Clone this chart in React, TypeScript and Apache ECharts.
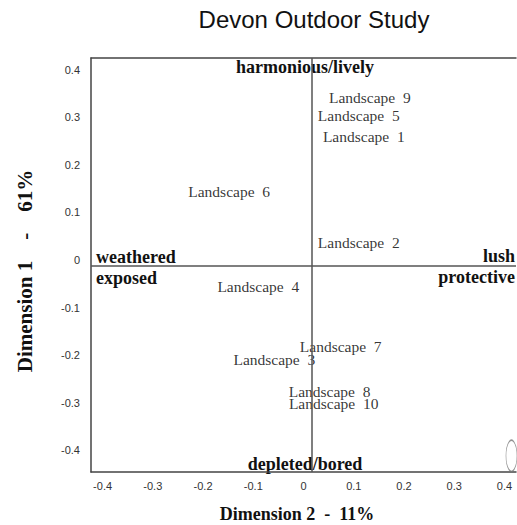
import React, { useEffect, useRef } from "react";
import * as echarts from "echarts";

const landscapeNames = [
  "Landscape  1", "Landscape  2", "Landscape  3", "Landscape  4", "Landscape  5",
  "Landscape  6", "Landscape  7", "Landscape  8", "Landscape  9", "Landscape  10",
];
const dim2Values = [0.104, 0.094, -0.074, -0.106, 0.094, -0.164, 0.058, 0.036, 0.116, 0.044];
const dim1Values = [0.272, 0.048, -0.198, -0.044, 0.316, 0.156, -0.171, -0.265, 0.352, -0.291];
const tickValues = [-0.4, -0.3, -0.2, -0.1, 0, 0.1, 0.2, 0.3, 0.4];
const ellipsePoint = [0.398, -0.40];

const SERIF = "'Liberation Serif', 'Times New Roman', serif";
const SANS = "'Liberation Sans', Arial, sans-serif";

export default function App() {
  const ref = useRef<HTMLDivElement>(null);
  useEffect(() => {
    if (!ref.current) return;
    const chart = echarts.init(ref.current, undefined, { renderer: "svg" });
    const xMin = -0.439, xMax = 0.407, yMin = -0.434, yMax = 0.436;
    const axisLineStyle = { color: "#444", width: 1.5 };
    chart.setOption({
      animation: false,
      backgroundColor: "#fff",
      grid: { left: 91, right: 1, top: 58, bottom: 53, outerBoundsMode: "none", containLabel: false },
      xAxis: [
        {
          type: "value", min: xMin, max: xMax, position: "bottom",
          axisLine: { show: true, onZero: false, lineStyle: axisLineStyle },
          axisTick: { show: false },
          splitLine: { show: false },
          axisLabel: {
            customValues: tickValues, fontFamily: SANS, fontSize: 11, color: "#333",
            margin: 8, padding: [0, 16, 0, 0],
            formatter: (v: number) => String(Math.round(v * 10) / 10),
          },
        },
        {
          type: "value", min: xMin, max: xMax, position: "top",
          axisLine: { show: true, onZero: false, lineStyle: axisLineStyle },
          axisTick: { show: false }, axisLabel: { show: false }, splitLine: { show: false },
        },
      ],
      yAxis: {
        type: "value", min: yMin, max: yMax,
        axisLine: { show: true, onZero: false, lineStyle: axisLineStyle },
        axisTick: { show: false },
        splitLine: { show: false },
        axisLabel: {
          customValues: tickValues, fontFamily: SANS, fontSize: 11, color: "#333",
          margin: 11, verticalAlign: "bottom",
          formatter: (v: number) => String(Math.round(v * 10) / 10),
        },
      },
      series: [
        {
          type: "scatter",
          symbolSize: 1,
          itemStyle: { color: "rgba(0,0,0,0)" },
          label: {
            show: true, position: "inside", formatter: "{b}",
            fontFamily: SERIF, fontSize: 15.5, color: "#000",
            textBorderWidth: 0,
          },
          data: landscapeNames.map((n, i) => ({ name: n, value: [dim2Values[i], dim1Values[i]] })),
          markLine: {
            silent: true, symbol: "none", label: { show: false },
            lineStyle: { color: "#555", width: 1.5, type: "solid" },
            data: [{ xAxis: 0 }, { yAxis: 0 }],
          },
        },
        {
          type: "scatter",
          symbol: "circle",
          symbolSize: [11, 31],
          itemStyle: { color: "rgba(0,0,0,0)", borderColor: "#777", borderWidth: 1 },
          data: [ellipsePoint],
        },
      ],
      graphic: [
        { type: "text", x: 314, y: 19, style: { text: "Devon Outdoor Study", font: `24px ${SANS}`, fill: "#111", textAlign: "center", textVerticalAlign: "middle" } },
        { type: "text", x: 305, y: 67, style: { text: "harmonious/lively", font: `bold 18px ${SERIF}`, fill: "#111", textAlign: "center", textVerticalAlign: "middle" } },
        { type: "text", x: 305, y: 464, style: { text: "depleted/bored", font: `bold 18px ${SERIF}`, fill: "#111", textAlign: "center", textVerticalAlign: "middle" } },
        { type: "text", x: 96, y: 257, style: { text: "weathered", font: `bold 18px ${SERIF}`, fill: "#111", textAlign: "left", textVerticalAlign: "middle" } },
        { type: "text", x: 96, y: 278, style: { text: "exposed", font: `bold 18px ${SERIF}`, fill: "#111", textAlign: "left", textVerticalAlign: "middle" } },
        { type: "text", x: 515, y: 256, style: { text: "lush", font: `bold 18px ${SERIF}`, fill: "#111", textAlign: "right", textVerticalAlign: "middle" } },
        { type: "text", x: 515, y: 277, style: { text: "protective", font: `bold 18px ${SERIF}`, fill: "#111", textAlign: "right", textVerticalAlign: "middle" } },
        { type: "text", x: 297, y: 514, style: { text: "Dimension 2  -  11%", font: `bold 18px ${SERIF}`, fill: "#111", textAlign: "center", textVerticalAlign: "middle" } },
        { type: "text", x: 25, y: 271, rotation: Math.PI / 2, style: { text: "Dimension 1    -    61%", font: `bold 21px ${SERIF}`, fill: "#111", textAlign: "center", textVerticalAlign: "middle" } },
      ],
    });
    return () => chart.dispose();
  }, []);
  return <div ref={ref} style={{ position: "fixed", left: 0, top: 0, width: 517, height: 525 }} />;
}
